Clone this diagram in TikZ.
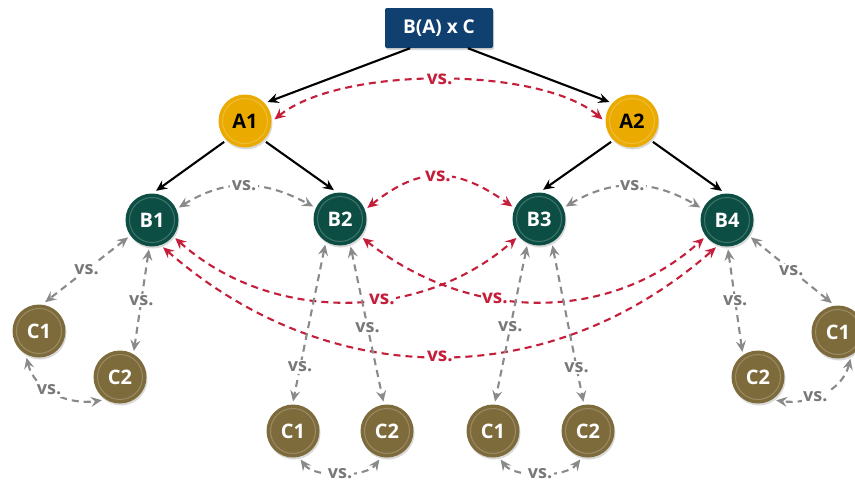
\documentclass[tikz,border=0pt]{standalone}
\usepackage{fontspec}
\setmainfont{Open Sans}
\usetikzlibrary{arrows.meta,shadows}
\definecolor{boxblue}{RGB}{16,64,112}
\definecolor{goldc}{RGB}{234,170,0}
\definecolor{tealc}{RGB}{12,78,67}
\definecolor{olivec}{RGB}{126,107,59}
\definecolor{redc}{RGB}{196,30,58}
\definecolor{grayc}{RGB}{138,138,138}
\definecolor{graytext}{RGB}{120,120,120}
\begin{document}
\begin{tikzpicture}[x=1pt,y=-1pt,
  every node/.style={font=\fontsize{20}{20}\selectfont\bfseries},
  ball/.style={circle, minimum size=53pt, inner sep=0pt, outer sep=3pt,
    drop shadow={opacity=0.3,shadow xshift=1pt,shadow yshift=-2pt},
    path picture={\draw[white,opacity=0.22,line width=1pt] (path picture bounding box.center) circle (22.5pt);}},
  anode/.style={ball, fill=goldc, text=black},
  bnode/.style={ball, fill=tealc, text=white},
  cnode/.style={ball, fill=olivec, text=white},
  topbox/.style={rectangle, rounded corners=2pt, fill=boxblue, text=white, minimum width=108pt, minimum height=40pt,
    font=\fontsize{19}{19}\selectfont\bfseries,
    drop shadow={opacity=0.3,shadow xshift=1pt,shadow yshift=-2pt}},
  tipk/.tip={Stealth[length=11pt,width=10pt,inset=4pt]},
  blk/.style={draw=black, line width=2.1pt, -tipk},
  redd/.style={draw=redc, line width=2.1pt, dash pattern=on 7pt off 5pt, tipk-tipk},
  grayd/.style={draw=grayc, line width=2.1pt, dash pattern=on 7pt off 5pt, tipk-tipk},
  vsr/.style={fill=white, inner sep=1.5pt, text=redc, font=\fontsize{19}{19}\selectfont\bfseries},
  vsg/.style={fill=white, inner sep=1.5pt, text=graytext, font=\fontsize{18}{18}\selectfont\bfseries}
]
\clip (0,0) rectangle (855,485);
\useasboundingbox (0,0) rectangle (855,485);

% nodes
\node[topbox] (box) at (439,28) {B(A) x C};
\node[anode] (A1) at (245,121) {A1};
\node[anode] (A2) at (632,121) {A2};
\node[bnode] (B1) at (152,220) {B1};
\node[bnode] (B2) at (340,219) {B2};
\node[bnode] (B3) at (539,219) {B3};
\node[bnode] (B4) at (727,220) {B4};
\node[cnode] (C1a) at (39,331) {C1};
\node[cnode] (C2a) at (120,377) {C2};
\node[cnode] (C1b) at (293,431) {C1};
\node[cnode] (C2b) at (387,431) {C2};
\node[cnode] (C1c) at (493,431) {C1};
\node[cnode] (C2c) at (588,431) {C2};
\node[cnode] (C2d) at (758,377) {C2};
\node[cnode] (C1d) at (838,332) {C1};

% black hierarchy arrows
\draw[blk] (box.-145) -- (A1.40);
\draw[blk] (box.-35) -- (A2.140);
\draw[blk] (A1.-135) -- (B1.82);
\draw[blk] (A1.-45) -- (B2.102);
\draw[blk] (A2.-135) -- (B3.82);
\draw[blk] (A2.-45) -- (B4.100);

% red comparisons
\draw[redd] (A1.3) .. controls (340,66) and (540,66) .. node[vsr,pos=0.5]{vs.} (A2.177);
\draw[redd] (B2.22) .. controls (420,166) and (455,166) .. node[vsr,pos=0.5]{vs.} (B3.155);
\draw[redd] (B1.-38) .. controls (270,323) and (420,323) .. node[vsr,pos=0.6]{vs.} (B3.-140);
\draw[redd] (B2.-40) .. controls (470,323) and (610,323) .. node[vsr,pos=0.38]{vs.} (B4.-142);
\draw[redd] (B1.-68) .. controls (330,393) and (550,393) .. node[vsr,pos=0.5]{vs.} (B4.-112);

% gray comparisons between B
\draw[grayd] (B1.25) .. controls (225,179) and (262,179) .. node[vsg,pos=0.5]{vs.} (B2.155);
\draw[grayd] (B3.25) .. controls (612,179) and (652,179) .. node[vsg,pos=0.5]{vs.} (B4.155);

% left group
\draw[grayd] (B1.-144) -- node[vsg,pos=0.5]{vs.} (C1a.78);
\draw[grayd] (B1.-96) -- node[vsg,pos=0.5]{vs.} (C2a.62);
\draw[grayd] (C1a.-115) .. controls (35,392) and (70,405) .. node[vsg,pos=0.42]{vs.} (C2a.-128);

% B2 group
\draw[grayd] (B2.-120) -- node[vsg,pos=0.78]{vs.} (C1b.90);
\draw[grayd] (B2.-69) -- node[vsg,pos=0.52]{vs.} (C2b.97);
\draw[grayd] (C1b.-75) .. controls (314,478) and (366,478) .. node[vsg,pos=0.5]{vs.} (C2b.-105);

% B3 group
\draw[grayd] (B3.-114) -- node[vsg,pos=0.52]{vs.} (C1c.86);
\draw[grayd] (B3.-63) -- node[vsg,pos=0.78]{vs.} (C2c.99);
\draw[grayd] (C1c.-75) .. controls (514,478) and (566,478) .. node[vsg,pos=0.5]{vs.} (C2c.-105);

% right group
\draw[grayd] (B4.-36) -- node[vsg,pos=0.5]{vs.} (C1d.102);
\draw[grayd] (B4.-88) -- node[vsg,pos=0.5]{vs.} (C2d.122);
\draw[grayd] (C1d.-65) .. controls (842,392) and (808,405) .. node[vsg,pos=0.58]{vs.} (C2d.-52);
\end{tikzpicture}
\end{document}
